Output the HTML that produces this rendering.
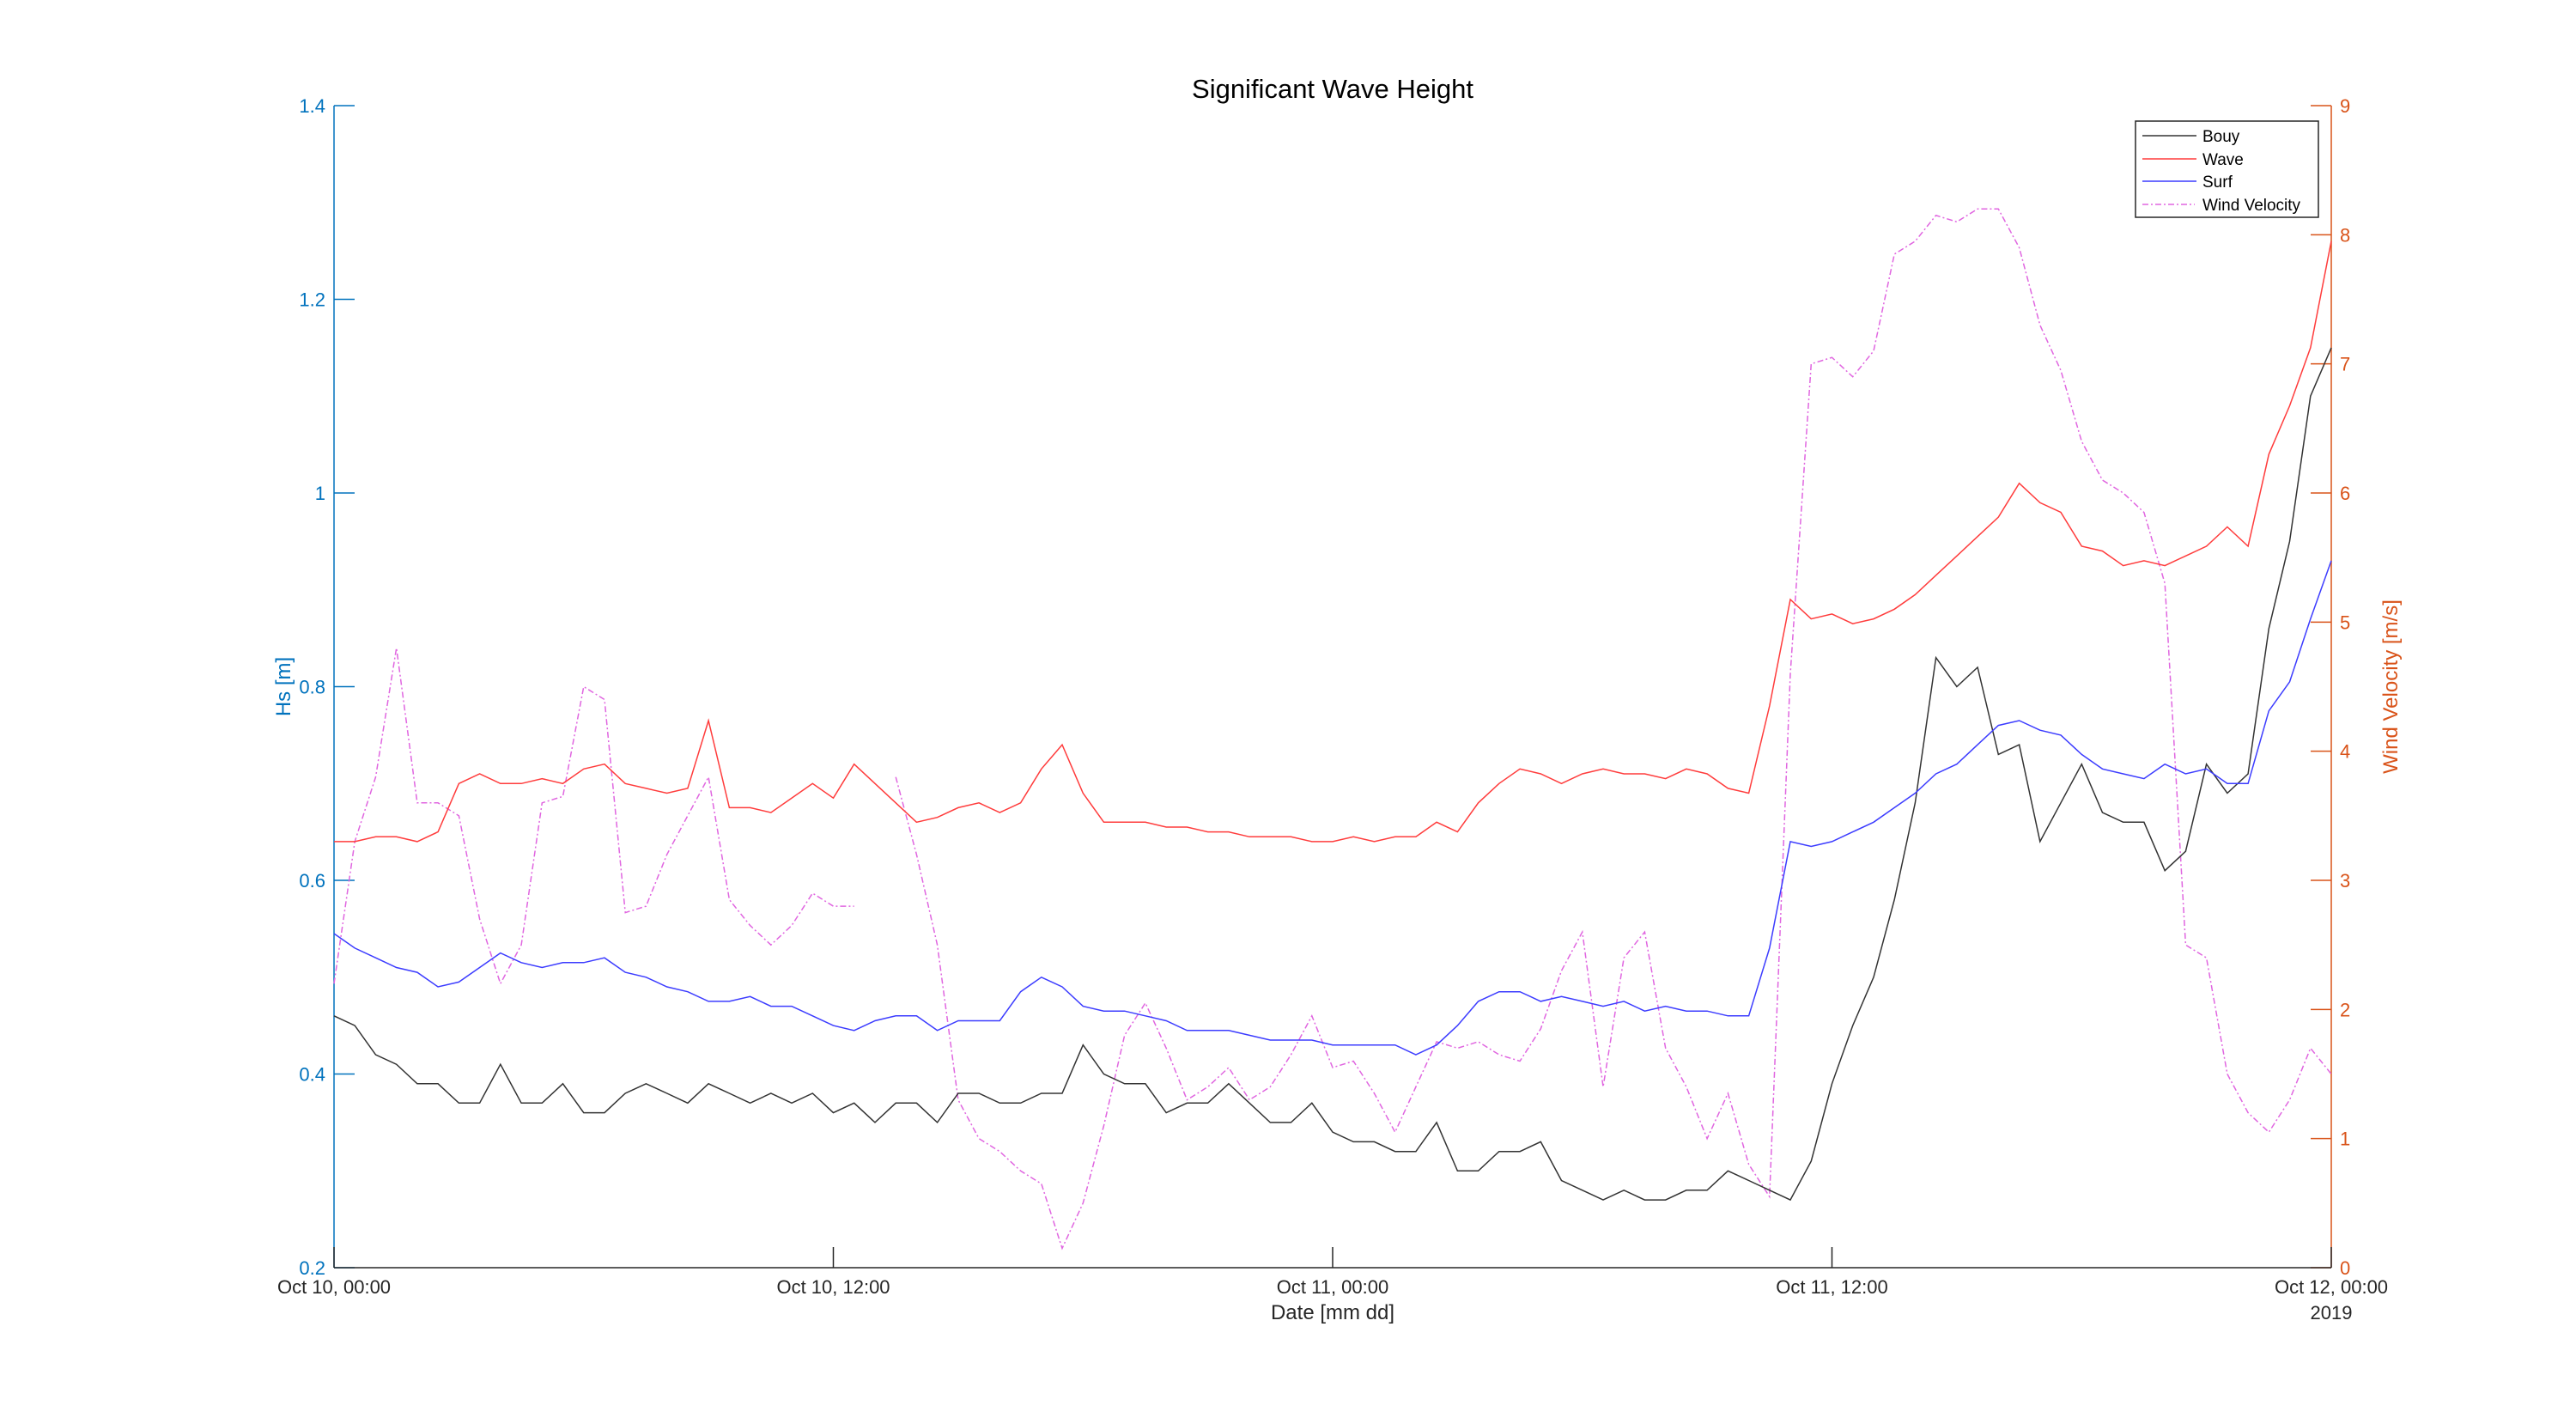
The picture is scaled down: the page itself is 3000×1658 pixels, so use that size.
<!DOCTYPE html>
<html><head><meta charset="utf-8">
<style>
html,body{margin:0;padding:0;background:#fff;}
svg{display:block;font-family:"Liberation Sans",Arial,sans-serif;}
</style></head>
<body>
<svg id="chart" width="3000" height="1658" viewBox="0 0 3000 1658" xmlns="http://www.w3.org/2000/svg">
<rect width="3000" height="1658" fill="#fff"/>
<text x="1552" y="114" font-size="31" text-anchor="middle" fill="#000">Significant Wave Height</text>
<g id="axes"></g>
<g id="series"></g>
<g>
<rect x="2487" y="141" width="213" height="112" fill="#fff" stroke="#262626" stroke-width="1.5"/>
<line x1="2495" y1="158" x2="2558" y2="158" stroke="#333" stroke-width="1.5"/>
<text x="2565" y="165" font-size="19">Bouy</text>
<line x1="2495" y1="185" x2="2558" y2="185" stroke="#ff3c3c" stroke-width="1.5"/>
<text x="2565" y="192" font-size="19">Wave</text>
<line x1="2495" y1="211" x2="2558" y2="211" stroke="#3c3cff" stroke-width="1.5"/>
<text x="2565" y="218" font-size="19">Surf</text>
<line x1="2495" y1="238" x2="2556" y2="238" stroke="#e066e0" stroke-width="1.5" stroke-dasharray="7,3,2,3"/>
<text x="2565" y="245" font-size="19">Wind Velocity</text>
</g>
</svg>
<script>
const stepHours = 0.5;
const bouy = [.46,.45,.42,.41,.39,.39,.37,.37,.41,.37,.37,.39,.36,.36,.38,.39,.38,.37,.39,.38,.37,.38,.37,.38,.36,.37,.35,.37,.37,.35,.38,.38,.37,.37,.38,.38,.43,.40,.39,.39,.36,.37,.37,.39,.37,.35,.35,.37,.34,.33,.33,.32,.32,.35,.30,.30,.32,.32,.33,.29,.28,.27,.28,.27,.27,.28,.28,.30,.29,.28,.27,.31,.39,.45,.50,.58,.68,.83,.80,.82,.73,.74,.64,.68,.72,.67,.66,.66,.61,.63,.72,.69,.71,.86,.95,1.10,1.15];
const wave = [.64,.64,.645,.645,.64,.65,.70,.71,.70,.70,.705,.70,.715,.72,.70,.695,.69,.695,.765,.675,.675,.67,.685,.70,.685,.72,.70,.68,.66,.665,.675,.68,.67,.68,.715,.74,.69,.66,.66,.66,.655,.655,.65,.65,.645,.645,.645,.64,.64,.645,.64,.645,.645,.66,.65,.68,.70,.715,.71,.70,.71,.715,.71,.71,.705,.715,.71,.695,.69,.78,.89,.87,.875,.865,.87,.88,.895,.915,.935,.955,.975,1.01,.99,.98,.945,.94,.925,.93,.925,.935,.945,.965,.945,1.04,1.09,1.15,1.26];
const surf = [.545,.53,.52,.51,.505,.49,.495,.51,.525,.515,.51,.515,.515,.52,.505,.50,.49,.485,.475,.475,.48,.47,.47,.46,.45,.445,.455,.46,.46,.445,.455,.455,.455,.485,.50,.49,.47,.465,.465,.46,.455,.445,.445,.445,.44,.435,.435,.435,.43,.43,.43,.43,.42,.43,.45,.475,.485,.485,.475,.48,.475,.47,.475,.465,.47,.465,.465,.46,.46,.53,.64,.635,.64,.65,.66,.675,.69,.71,.72,.74,.76,.765,.755,.75,.73,.715,.71,.705,.72,.71,.715,.70,.70,.775,.805,.87,.93];
const wind = [2.2,3.3,3.8,4.8,3.6,3.6,3.5,2.7,2.2,2.5,3.6,3.65,4.5,4.4,2.75,2.8,3.2,3.5,3.8,2.85,2.65,2.5,2.65,2.9,2.8,2.8,null,3.8,3.2,2.5,1.3,1.0,0.9,0.75,0.65,0.15,0.5,1.1,1.8,2.05,1.7,1.3,1.4,1.55,1.3,1.4,1.65,1.95,1.55,1.6,1.35,1.05,1.4,1.75,1.7,1.75,1.65,1.6,1.85,2.3,2.6,1.4,2.4,2.6,1.7,1.4,1.0,1.35,0.8,0.55,4.6,7.0,7.05,6.9,7.1,7.85,7.95,8.15,8.1,8.2,8.2,7.9,7.3,6.95,6.4,6.1,6.0,5.85,5.3,2.5,2.4,1.5,1.2,1.05,1.3,1.7,1.5];
const leftTicks = [0.2,0.4,0.6,0.8,1,1.2,1.4];
const leftTickLabels = ["0.2","0.4","0.6","0.8","1","1.2","1.4"];
const rightTicks = [0,1,2,3,4,5,6,7,8,9];
const xTicks = [0,12,24,36,48];
const xTickLabels = ["Oct 10, 00:00","Oct 10, 12:00","Oct 11, 00:00","Oct 11, 12:00","Oct 12, 00:00"];

const X0=389,X1=2715,Y0=123,Y1=1476;
const xS = h => X0 + (h/48)*(X1-X0);
const yL = v => Y1 - (v-0.2)/1.2*(Y1-Y0);
const yR = v => Y1 - v/9*(Y1-Y0);
const NS="http://www.w3.org/2000/svg";
const axes=document.getElementById('axes'), ser=document.getElementById('series');
function mk(tag,attrs,parent){const e=document.createElementNS(NS,tag);for(const k in attrs)e.setAttribute(k,attrs[k]);parent.appendChild(e);return e;}
const BLUE="#0072BD", ORANGE="#D95319";
let la=mk('line',{x1:X0,y1:Y0,x2:X0,y2:Y1,stroke:BLUE,'stroke-width':1.5},axes);


leftTicks.forEach((t,i)=>{
  const y=yL(t);
  const tk=mk('line',{x1:X0,y1:y,x2:X0+24,y2:y,stroke:BLUE,'stroke-width':1.5},axes);
  
  
  const tx=mk('text',{x:X0-10,y:y+8,'font-size':22,'text-anchor':'end',fill:BLUE},axes);
  tx.textContent=leftTickLabels[i];
  
  
});
let ra=mk('line',{x1:X1,y1:Y0,x2:X1,y2:Y1,stroke:ORANGE,'stroke-width':1.5},axes);


rightTicks.forEach(t=>{
  const y=yR(t);
  const tk=mk('line',{x1:X1-24,y1:y,x2:X1,y2:y,stroke:ORANGE,'stroke-width':1.5},axes);
  
  
  const tx=mk('text',{x:X1+10,y:y+8,'font-size':22,fill:ORANGE},axes);
  tx.textContent=String(t);
  
  
});
let xa=mk('line',{x1:X0,y1:Y1,x2:X1,y2:Y1,stroke:'#262626','stroke-width':1.5},axes);


xTicks.forEach((t,i)=>{
  const x=xS(t);
  const tk=mk('line',{x1:x,y1:Y1,x2:x,y2:Y1-24,stroke:'#262626','stroke-width':1.5},axes);
  
  
  const tx=mk('text',{x:x,y:Y1+30,'font-size':22,'text-anchor':'middle',fill:'#262626'},axes);
  tx.textContent=xTickLabels[i];
  
  
});
let yr=mk('text',{x:X1,y:Y1+60,'font-size':22,'text-anchor':'middle',fill:'#262626'},axes);
yr.textContent='2019';


let xt=mk('text',{x:(X0+X1)/2,y:Y1+60,'font-size':24,'text-anchor':'middle',fill:'#262626'},axes);
xt.textContent='Date [mm dd]';


let lt=mk('text',{x:0,y:0,'font-size':24,'text-anchor':'middle',fill:BLUE,transform:`translate(338,${(Y0+Y1)/2}) rotate(-90)`},axes);
lt.textContent='Hs [m]';


let rt=mk('text',{x:0,y:0,'font-size':24,'text-anchor':'middle',fill:ORANGE,transform:`translate(2792,${(Y0+Y1)/2}) rotate(-90)`},axes);
rt.textContent='Wind Velocity [m/s]';



function pathFor(arr,yf){
  let d='',pen=false;
  arr.forEach((v,i)=>{
    if(v===null){pen=false;return;}
    d+=(pen?'L':'M')+xS(i*stepHours).toFixed(1)+','+yf(v).toFixed(1);
    pen=true;
  });
  return d;
}
let pw=mk('path',{d:pathFor(wind,yR),fill:'none',stroke:'#e066e0','stroke-width':1.5,'stroke-dasharray':'7,3,2,3'},ser);


let pb=mk('path',{d:pathFor(bouy,yL),fill:'none',stroke:'#333','stroke-width':1.5},ser);


let pwa=mk('path',{d:pathFor(wave,yL),fill:'none',stroke:'#ff3c3c','stroke-width':1.5},ser);


let ps=mk('path',{d:pathFor(surf,yL),fill:'none',stroke:'#3c3cff','stroke-width':1.5},ser);


</script>
</body></html>
